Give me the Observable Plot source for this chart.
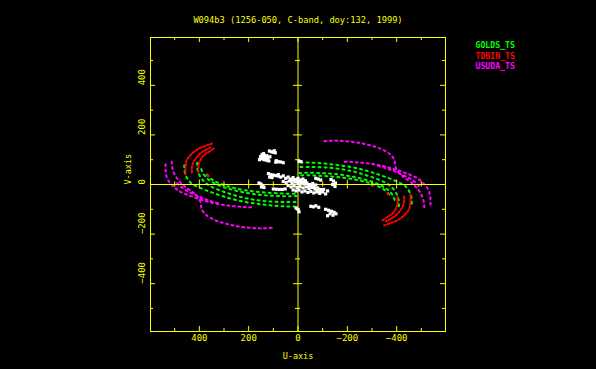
<!DOCTYPE html>
<html><head><meta charset="utf-8">
<script src="https://cdn.jsdelivr.net/npm/d3@7"></script>
<script src="https://cdn.jsdelivr.net/npm/@observablehq/plot@0.6"></script>
<style>html,body{margin:0;padding:0;background:#000;} svg{display:block}</style>
</head><body><div id="chart"></div>
<script>
const title = "W094b3 (1256-050, C-band, doy:132, 1999)";
const stations = ["GOLDS_TS", "TDBIN_TS", "USUDA_TS"];
const stationColors = ["#00ff00", "#ff0000", "#ff00ff"];
const xLabel = "U-axis";
const yLabel = "V-axis";
const tickLabelsU = [400, 200, 0, -200, -400];
const tickLabelsV = [400, 200, 0, -200, -400];
const majorTicks = [-400, -200, 0, 200, 400];
const minorTicks = [-500, -300, -100, 100, 300, 500];
const uDomain = [598, -598];
const vDomain = [-593, 593];

// space-baseline tracks (u, v); each is drawn with its conjugate (-u, -v)
const goldsTracks = [
  [[461,78],[461,60],[457,42],[450,26],[440,12],[426,0],[405,-10],[380,-21],[350,-32],[318,-43],[285,-54],[250,-63],[212,-71],[172,-77],[132,-82],[92,-86],[52,-88],[14,-89]],
  [[409,88],[409,70],[405,50],[396,31],[383,14],[363,-2],[336,-16],[302,-29],[268,-40],[234,-50],[198,-58],[160,-64],[122,-68],[84,-70],[46,-71],[10,-71]],
  [[392,62],[385,45],[372,28],[353,13],[328,0],[298,-12],[264,-22],[228,-30],[190,-37],[150,-42],[110,-45],[70,-47],[30,-47],[6,-46]],
  [[370,40],[355,25],[335,12],[310,1],[280,-9],[246,-17],[208,-24],[168,-29],[128,-33],[88,-35],[48,-37],[10,-37]]
];
const tdbinTracks = [
  [[456,40],[456,60],[455,80],[450,100],[440,114],[430,125],[417,135],[403,145],[388,151],[369,158],[349,165]],
  [[430,48],[430,70],[424,90],[410,110],[396,125],[376,138],[356,149]],
  [[404,50],[403,78],[396,98],[383,117],[362,131],[342,145]],
  [[366,40],[358,26]]
];
const usudaTracks = [
  [[537,82],[537,62],[535,42],[529,22],[518,5],[503,-10],[484,-25],[460,-37],[432,-48],[404,-58],[374,-67],[344,-75],[312,-81],[278,-86],[244,-89],[212,-91],[180,-92]],
  [[512,92],[511,75],[506,55],[497,35],[484,16],[468,0],[450,-15],[430,-29],[412,-43],[400,-60],[394,-80],[391,-98],[379,-117],[354,-135],[320,-150],[280,-161],[238,-170],[190,-175],[142,-177],[100,-174]],
  [[490,6],[476,-8],[458,-21],[436,-33],[410,-45],[382,-57],[350,-68],[318,-77]]
];
// ground baselines (white)
const groundU = [118,128,138,148,122,132,142,152,126,136,146,140,156,114, 92,100,108,116,96, 90,80,70,60,88, 120,110,100,90,80,115,105, 158,150,142,148,138, 100,88,76,64,52,
  80,70,60,50,40,30,20,10,0,-10,-20,-30, 60,48,36,24,12,0,-12,-24,-36,-48,-60,-72, 40,28,16,4,-8,-20,-32,-44,-56,-68,-80,-92,
  20,8,-4,-16,-28,-40,-52,-64,-76,-88,-100,-112,-120, 30,18,6,-6,-18,-30,-42,-54,-66,-78,-90,-104,
  8,0,-4, -52,-62,-72,-84, -112,-124,-136,-146,-130,-142,-120,-154, -134,-144,-152,-140,-150, -4,-12, -72,-82,-92];
const groundV = [95,98,100,104,106,108,110,112,116,118,120,125,100,112, 128,130,132,135,136, 90,92,91,88,96, 44,40,38,36,34,30,28, 6,2,-4,-10,-12, -18,-19,-20,-20,-18,
  40,30,35,25,30,22,28,20,25,18,22,15, 12,8,14,6,10,4,8,2,6,0,4,-2, -4,-10,-6,-12,-8,-14,-10,-16,-12,-18,-14,-20,
  -22,-26,-22,-30,-26,-32,-28,-34,-30,-36,-30,-38,-26, 16,18,14,12,10,8,-4,-6,-8,-24,-26,-20,
  -94,-100,-110, -88,-90,-86,-92, -100,-104,-108,-112,-118,-124,-126,-118, 20,14,6,0,-8, 94,92, 25,22,18];

const trackRows = [];
[goldsTracks, tdbinTracks, usudaTracks].forEach((tracks, s) => tracks.forEach((t, i) => {
  for (const sign of [1, -1]) t.forEach(([u, v]) => trackRows.push({station: stations[s], track: `${s}-${i}-${sign}`, u: sign * u, v: sign * v}));
}));
const groundRows = groundU.map((u, i) => ({u, v: groundV[i]}));

const Y = "#ffff00";
const mono = "DejaVu Sans Mono";
const fmt = d => d < 0 ? "\u2212" + Math.abs(d) : String(d);
const dashes = {"GOLDS_TS": "2,4", "TDBIN_TS": "2,2", "USUDA_TS": "2,3.5"};

function ticks(values, len) {
  return [
    Plot.ruleX(values, {x: d => d, y1: vDomain[0], y2: vDomain[0], insetTop: -len, insetBottom: 0, stroke: Y}),
    Plot.ruleX(values, {x: d => d, y1: vDomain[1], y2: vDomain[1], insetTop: 0, insetBottom: -len, stroke: Y}),
    Plot.ruleY(values, {y: d => d, x1: uDomain[0], x2: uDomain[0], insetLeft: 0, insetRight: -len, stroke: Y}),
    Plot.ruleY(values, {y: d => d, x1: uDomain[1], x2: uDomain[1], insetLeft: -len, insetRight: 0, stroke: Y}),
    Plot.ruleX(values.filter(d => d !== 0), {x: d => d, y1: 0, y2: 0, insetTop: -(len - 0.5), insetBottom: -(len - 0.5), stroke: Y}),
    Plot.ruleY(values.filter(d => d !== 0), {y: d => d, x1: 0, x2: 0, insetLeft: -(len - 0.5), insetRight: -(len - 0.5), stroke: Y})
  ];
}

const chart = Plot.plot({
  width: 596, height: 369,
  marginLeft: 150, marginRight: 151, marginTop: 37, marginBottom: 38,
  style: {background: "#000", color: Y, fontFamily: mono},
  x: {domain: uDomain, axis: null},
  y: {domain: vDomain, axis: null},
  marks: [
    ...stations.map((s, k) => Plot.line(trackRows.filter(r => r.station === s), {
      x: "u", y: "v", z: "track", stroke: stationColors[k], strokeWidth: 2,
      strokeDasharray: dashes[s], curve: "catmull-rom"
    })),
    Plot.ruleX([0], {stroke: Y}),
    Plot.ruleY([0], {stroke: Y}),
    ...ticks(majorTicks, 5),
    ...ticks(minorTicks, 3),
    Plot.frame({stroke: Y}),
    Plot.dot(groundRows, {x: "u", y: "v", symbol: "square", r: 1.8, fill: "#fff"}),
    Plot.text([title], {frameAnchor: "top", dy: -21, fill: Y, fontSize: 8.7, fontFamily: mono}),
    Plot.text([xLabel], {frameAnchor: "bottom", dy: 27, fill: Y, fontSize: 8.5, fontFamily: mono}),
    Plot.text([yLabel], {frameAnchor: "left", dx: -22, rotate: -90, fill: Y, fontSize: 8.5, fontFamily: mono}),
    Plot.text(tickLabelsU, {x: d => d, text: fmt, frameAnchor: "bottom", dy: 9, fill: Y, fontSize: 9, fontFamily: mono}),
    Plot.text(tickLabelsV, {y: d => d, text: fmt, frameAnchor: "left", dx: -8.7, rotate: -90, fill: Y, fontSize: 9, fontFamily: mono}),
    ...stations.map((s, k) => Plot.text([s], {frameAnchor: "top-right", textAnchor: "start", dx: 30, dy: 4.7 + k * 10.5, fill: stationColors[k], fontSize: 8.2, fontWeight: "bold", fontFamily: mono}))
  ]
});
document.getElementById("chart").append(chart);
</script>
</body></html>
